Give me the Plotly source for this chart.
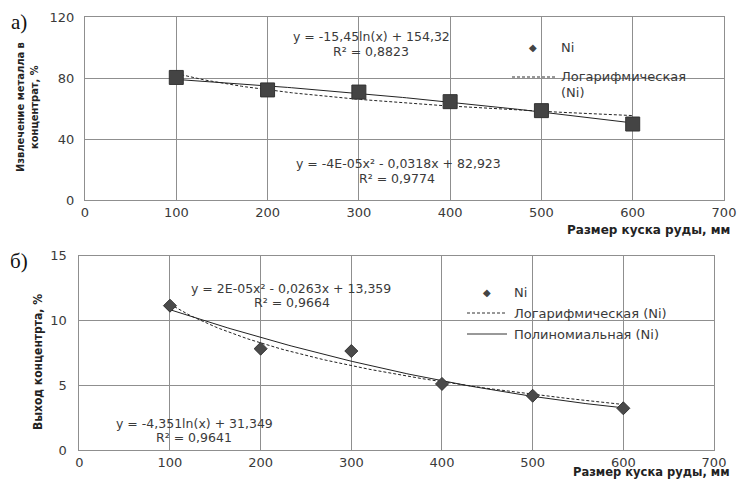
import numpy as np
import plotly.graph_objects as go

W, H = 737, 481

# ---- data ----
size_mm = [100, 200, 300, 400, 500, 600]
recovery_ni = [80.5, 72.3, 70.9, 64.6, 58.7, 49.9]     # chart а)
yield_ni = [11.14, 7.82, 7.64, 5.10, 4.19, 3.22]        # chart б)

x_ticks = [0, 100, 200, 300, 400, 500, 600, 700]
y_ticks_a = [0, 40, 80, 120]
y_ticks_b = [0, 5, 10, 15]

eq_a_log = ["y = -15,45ln(x) + 154,32", "R² = 0,8823"]
eq_a_poly = ["y = -4E-05x² - 0,0318x + 82,923", "R² = 0,9774"]
eq_b_poly = ["y = 2E-05x² - 0,0263x + 13,359", "R² = 0,9664"]
eq_b_log = ["y = -4,351ln(x) + 31,349", "R² = 0,9641"]

# ---- trendlines (least squares, as the spreadsheet does) ----
xs = np.linspace(min(size_mm), max(size_mm), 120)


def log_fit(x, y):
    b, a = np.polyfit(np.log(x), y, 1)
    return b * np.log(xs) + a


def poly_fit(x, y):
    c = np.polyfit(x, y, 2)
    return np.polyval(c, xs)


def px(x):
    return x / W


def py(y):
    return 1 - y / H


fig = go.Figure()

GRID = "#8f8f8f"
TXT = "#3a3a3a"
FONT = "DejaVu Sans, Open Sans, sans-serif"
NARROW = "Liberation Sans Narrow, DejaVu Sans Condensed, Roboto Condensed, Arial Narrow, sans-serif"

# chart а)
fig.add_trace(go.Scatter(x=xs, y=poly_fit(size_mm, recovery_ni), mode="lines",
                         line=dict(color="#222222", width=1), xaxis="x", yaxis="y",
                         showlegend=False))
fig.add_trace(go.Scatter(x=xs, y=log_fit(size_mm, recovery_ni), mode="lines",
                         line=dict(color="#222222", width=1, dash="3px,2px"),
                         xaxis="x", yaxis="y", showlegend=False))
fig.add_trace(go.Scatter(x=size_mm, y=recovery_ni, mode="markers",
                         marker=dict(symbol="square", size=14, color="#444444",
                                     line=dict(color="#333333", width=1)),
                         xaxis="x", yaxis="y", showlegend=False, name="Ni"))

# chart б)
fig.add_trace(go.Scatter(x=xs, y=poly_fit(size_mm, yield_ni), mode="lines",
                         line=dict(color="#222222", width=1), xaxis="x2", yaxis="y2",
                         showlegend=False))
fig.add_trace(go.Scatter(x=xs, y=log_fit(size_mm, yield_ni), mode="lines",
                         line=dict(color="#222222", width=1, dash="3px,2px"),
                         xaxis="x2", yaxis="y2", showlegend=False))
fig.add_trace(go.Scatter(x=size_mm, y=yield_ni, mode="markers",
                         marker=dict(symbol="diamond", size=10, color="#4a4a4a",
                                     line=dict(color="#333333", width=1)),
                         xaxis="x2", yaxis="y2", showlegend=False, name="Ni"))

axis_common = dict(showgrid=True, gridcolor=GRID, gridwidth=1, showline=True,
                   linecolor=GRID, linewidth=1, mirror=True, zeroline=False,
                   automargin=False,
                   tickfont=dict(family=FONT, size=13, color=TXT), ticks="")

fig.update_layout(
    width=W, height=H,
    margin=dict(l=0, r=0, t=0, b=0, autoexpand=False),
    paper_bgcolor="white", plot_bgcolor="white",
    xaxis=dict(domain=[px(85), px(724)], range=[0, 700], tickvals=x_ticks,
               anchor="y", ticklabelstandoff=0, **axis_common),
    yaxis=dict(domain=[py(200), py(17.3)], range=[0, 120], tickvals=y_ticks_a,
               anchor="x", ticklabelstandoff=7, **axis_common),
    xaxis2=dict(domain=[px(79.3), px(714)], range=[0, 700], tickvals=x_ticks,
                anchor="y2", ticklabelstandoff=0, **axis_common),
    yaxis2=dict(domain=[py(450), py(255.7)], range=[0, 15], tickvals=y_ticks_b,
                anchor="x2", ticklabelstandoff=9, **axis_common),
    showlegend=False,
)

ann = []


def text(x, y, s, size=12.5, family=FONT, color=TXT, xanchor="center", angle=0,
         bold=False, yanchor="middle"):
    if bold:
        s = "<b>" + s + "</b>"
    ann.append(dict(x=px(x), y=py(y), xref="paper", yref="paper", text=s,
                    showarrow=False, xanchor=xanchor, yanchor=yanchor,
                    textangle=angle, font=dict(size=size, family=family, color=color)))


# panel labels
text(19, 22, "а)", size=21, family="Liberation Serif, DejaVu Serif, serif", color="#111111")
text(19, 261, "б)", size=21, family="Liberation Serif, DejaVu Serif, serif", color="#111111")

# axis titles
text(27, 107, "Извлечение металла в<br>концентрат, %", size=11, family=NARROW,
     color="#222222", angle=-90, bold=True)
text(38, 362, "Выход концентрта, %", size=12, family=NARROW, color="#222222",
     angle=-90, bold=True)
text(732, 230, "Размер куска руды, мм", size=12, color="#222222", xanchor="right", bold=True)
text(732, 481, "Размер куска руды, мм", size=11.5, color="#222222", xanchor="right",
     bold=True, yanchor="bottom")

# equations
text(371, 37, eq_a_log[0]); text(371, 51, eq_a_log[1])
text(398, 163, eq_a_poly[0]); text(397, 178, eq_a_poly[1])
text(291, 288, eq_b_poly[0]); text(292, 302, eq_b_poly[1])
text(194, 423, eq_b_log[0]); text(194, 437, eq_b_log[1])

# legend а)
text(533, 47, "◆", size=10, color="#444444")
text(559, 47, "Ni", xanchor="left", size=13)
text(559, 77, "Логарифмическая", xanchor="left", size=13)
text(559, 92, "(Ni)", xanchor="left", size=13)
# legend б)
text(487, 292, "◆", size=10, color="#444444")
text(512, 292, "Ni", xanchor="left", size=13)
text(512, 313, "Логарифмическая (Ni)", xanchor="left", size=13)
text(512, 334, "Полиномиальная (Ni)", xanchor="left", size=13)

fig.update_layout(annotations=ann)

shapes = [
    dict(type="line", xref="paper", yref="paper", x0=px(512), x1=px(555), y0=py(77), y1=py(77),
         line=dict(color="#333333", width=1, dash="3px,2px")),
    dict(type="line", xref="paper", yref="paper", x0=px(467), x1=px(507), y0=py(313), y1=py(313),
         line=dict(color="#333333", width=1, dash="3px,2px")),
    dict(type="line", xref="paper", yref="paper", x0=px(467), x1=px(507), y0=py(334), y1=py(334),
         line=dict(color="#333333", width=1)),
]
fig.update_layout(shapes=shapes)

# place the figure flush with the window corner (no default page margin)
fig.write_html("out.html",
               config={"displayModeBar": False},
               post_script="document.body.style.margin='0';"
                           "document.body.style.overflow='hidden';")
